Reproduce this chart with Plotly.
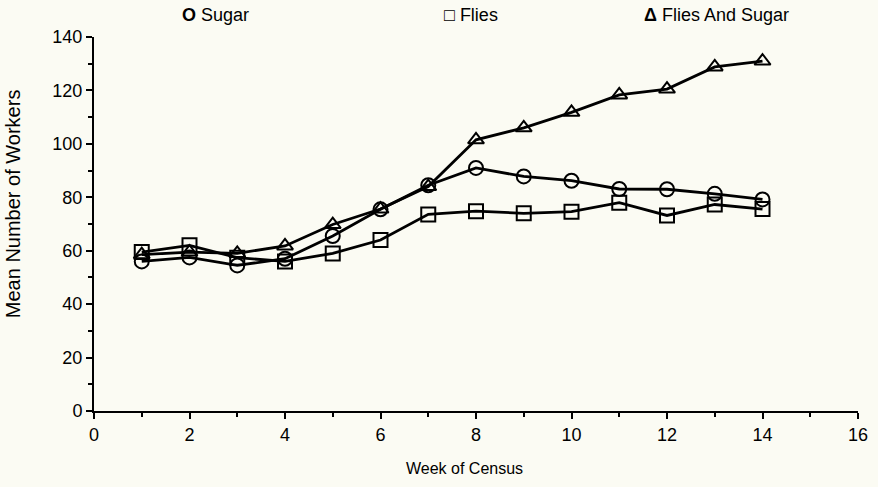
import plotly.graph_objects as go

weeks = [1, 2, 3, 4, 5, 6, 7, 8, 9, 10, 11, 12, 13, 14]
sugar = [56, 57.5, 54.5, 57, 65.5, 75.5, 84.5, 91, 87.8, 86.2, 83.1, 83, 81.3, 79.2]
flies = [59.5, 62, 57.4, 56, 59, 64, 73.6, 74.8, 74, 74.6, 78, 73.2, 77.3, 75.6]
flies_sugar = [58.5, 59.5, 59, 61.8, 69.8, 75.6, 84, 101.5, 106, 111.8, 118.3, 120.5, 128.8, 131]

font_fam = "Liberation Sans, Arial, sans-serif"
bg = "#fbfbf3"

fig = go.Figure()
series = [
    ("Sugar", sugar, "circle-open"),
    ("Flies", flies, "square-open"),
    ("Flies And Sugar", flies_sugar, "triangle-up-open"),
]
for name, vals, sym in series:
    fig.add_trace(go.Scatter(
        x=weeks, y=vals, name=name, mode="lines+markers",
        line=dict(color="black", width=2.8),
        marker=dict(symbol=sym, size=14, color="black", line=dict(color="black", width=2)),
        showlegend=False,
    ))

# legend as annotations at top
leg = [("O", "Sugar", 0.113), ("□", "Flies", 0.455), ("Δ", "Flies And Sugar", 0.717)]
for sym, txt, xp in leg:
    fig.add_annotation(
        x=xp, y=1.059, xref="paper", yref="paper", xanchor="left", yanchor="middle",
        text="<b>" + sym + "</b> " + txt, showarrow=False,
        font=dict(family=font_fam, size=18, color="black"),
    )

# axis titles
fig.add_annotation(x=0.4856, y=-0.155, xref="paper", yref="paper",
                   xanchor="center", yanchor="middle", showarrow=False,
                   text="Week of Census", font=dict(family=font_fam, size=16, color="black"))
fig.add_annotation(x=-0.106, y=0.553, xref="paper", yref="paper",
                   xanchor="center", yanchor="middle", showarrow=False, textangle=-90,
                   text="Mean Number of Workers", font=dict(family=font_fam, size=20, color="black"))

fig.update_layout(
    width=878, height=487,
    margin=dict(l=94, r=20, t=37, b=76),
    paper_bgcolor=bg, plot_bgcolor=bg,
    font=dict(family=font_fam, size=18, color="black"),
    xaxis=dict(
        range=[0, 16], dtick=2, tick0=0, showgrid=False, zeroline=False,
        showline=True, linecolor="black", linewidth=2, automargin=False,
        ticks="outside", ticklen=6, tickwidth=2, tickcolor="black",
        minor=dict(dtick=1, ticks="outside", ticklen=4, tickwidth=1.5, tickcolor="black"),
        tickfont=dict(size=18),
    ),
    yaxis=dict(
        range=[0, 140], dtick=20, tick0=0, showgrid=False, zeroline=False,
        showline=True, linecolor="black", linewidth=2, automargin=False,
        ticks="outside", ticklen=6, tickwidth=2, tickcolor="black",
        minor=dict(dtick=10, ticks="outside", ticklen=4, tickwidth=1.5, tickcolor="black"),
        tickfont=dict(size=18),
    ),
)

fig.write_html("out.html", config={"displayModeBar": False},
               post_script="document.body.style.margin='0';document.body.style.background='%s';" % bg)
